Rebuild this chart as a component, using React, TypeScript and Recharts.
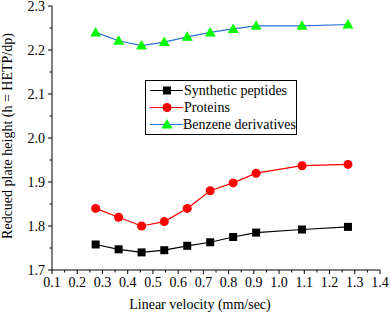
import { LineChart, Line, XAxis, YAxis } from 'recharts'

const velocity = [0.273, 0.364, 0.455, 0.545, 0.636, 0.727, 0.818, 0.909, 1.091, 1.273]
const peptides = [1.758, 1.747, 1.74, 1.745, 1.755, 1.763, 1.775, 1.785, 1.792, 1.798]
const proteins = [1.84, 1.82, 1.8, 1.81, 1.84, 1.88, 1.898, 1.92, 1.937, 1.94]
const benzene = [2.24, 2.221, 2.21, 2.218, 2.23, 2.24, 2.248, 2.255, 2.255, 2.258]

const xMajor = [0.1, 0.2, 0.3, 0.4, 0.5, 0.6, 0.7, 0.8, 0.9, 1.0, 1.1, 1.2, 1.3, 1.4]
const xMinor = [0.15, 0.25, 0.35, 0.45, 0.55, 0.65, 0.75, 0.85, 0.95, 1.05, 1.15, 1.25, 1.35]
const yMajor = [1.7, 1.8, 1.9, 2.0, 2.1, 2.2, 2.3]
const yMinor = [1.75, 1.85, 1.95, 2.05, 2.15, 2.25]

const series = [
  { name: 'Synthetic peptides', values: peptides, line: '#000000', fill: '#000000', shape: 'square' },
  { name: 'Proteins', values: proteins, line: '#ff0000', fill: '#ff0000', shape: 'circle' },
  { name: 'Benzene derivatives', values: benzene, line: '#2b73d8', fill: '#00ff00', shape: 'triangle' }
]

const font = "'Liberation Serif', 'Times New Roman', 'DejaVu Serif', serif"

function Marker({ cx, cy, shape, fill }: any) {
  if (cx == null || cy == null) return null
  if (shape === 'square') return <rect x={cx - 4} y={cy - 4} width={8} height={8} fill={fill} />
  if (shape === 'circle') return <circle cx={cx} cy={cy} r={4.5} fill={fill} />
  return <polygon points={`${cx},${cy - 5.5} ${cx - 5.5},${cy + 4} ${cx + 5.5},${cy + 4}`} fill={fill} />
}

function XTick({ x, y, payload }: any) {
  const major = xMajor.some((v) => Math.abs(v - payload.value) < 1e-6)
  return (
    <g>
      <line x1={x} x2={x} y1={y - 8} y2={y - 8 + (major ? 4 : 2.5)} stroke="#000" />
      {major && (
        <text x={x} y={y + 9} textAnchor="middle" fontSize={14} style={{ fontFamily: font }} fill="#000">
          {payload.value.toFixed(1)}
        </text>
      )}
    </g>
  )
}

function YTick({ x, y, payload }: any) {
  const major = yMajor.some((v) => Math.abs(v - payload.value) < 1e-6)
  return (
    <g>
      <line x1={x + 8} x2={x + 8 - (major ? 4 : 2.5)} y1={y} y2={y} stroke="#000" />
      {major && (
        <text x={x + 1} y={y + 5} textAnchor="end" fontSize={14} style={{ fontFamily: font }} fill="#000">
          {payload.value.toFixed(1)}
        </text>
      )}
    </g>
  )
}

function LegendBox() {
  return (
    <div
      style={{
        position: 'absolute',
        left: 145,
        top: 80,
        border: '1px solid #000',
        background: '#fff',
        width: 150,
        padding: '1px 0',
        fontFamily: font,
        fontSize: 14,
        lineHeight: '17px',
        whiteSpace: 'nowrap'
      }}
    >
      {series.map((s) => (
        <div key={s.name} style={{ display: 'flex', alignItems: 'center', height: 17 }}>
          <svg width={38} height={17}>
            <line x1={4} x2={37} y1={8.5} y2={8.5} stroke={s.line} strokeWidth={1.2} />
            <Marker cx={21} cy={8.5} shape={s.shape} fill={s.fill} />
          </svg>
          <span>{s.name}</span>
        </div>
      ))}
    </div>
  )
}

export default function App() {
  return (
    <div style={{ position: 'absolute', left: 0, top: 0, width: 390, height: 316, background: '#fff' }}>
      <LineChart width={390} height={316} margin={{ top: 6, right: 10, bottom: 0, left: 44 }}>
        <XAxis
          type="number"
          dataKey="x"
          domain={[0.1, 1.4]}
          ticks={[...xMajor, ...xMinor]}
          interval={0}
          tick={<XTick />}
          tickLine={false}
          axisLine={{ stroke: '#000' }}
          height={46}
          allowDataOverflow
        />
        <YAxis
          type="number"
          domain={[1.7, 2.3]}
          ticks={[...yMajor, ...yMinor]}
          interval={0}
          tick={<YTick />}
          tickLine={false}
          axisLine={{ stroke: '#000' }}
          width={8}
          allowDataOverflow
        />
        {series.map((s) => (
          <Line
            key={s.name}
            name={s.name}
            data={velocity.map((v, i) => ({ x: v, y: s.values[i] }))}
            dataKey="y"
            stroke={s.line}
            strokeWidth={1.2}
            dot={(p: any) => <Marker key={p.index} cx={p.cx} cy={p.cy} shape={s.shape} fill={s.fill} />}
            activeDot={false}
            isAnimationActive={false}
          />
        ))}
        <text x={200} y={309} textAnchor="middle" fontSize={14} style={{ fontFamily: font }} fill="#000">
          Linear velocity (mm/sec)
        </text>
        <text
          x={12}
          y={136}
          textAnchor="middle"
          fontSize={14}
          style={{ fontFamily: font }}
          fill="#000"
          transform="rotate(-90 12 136)"
        >
          Redcued plate height (h = HETP/dp)
        </text>
      </LineChart>
      <LegendBox />
    </div>
  )
}
